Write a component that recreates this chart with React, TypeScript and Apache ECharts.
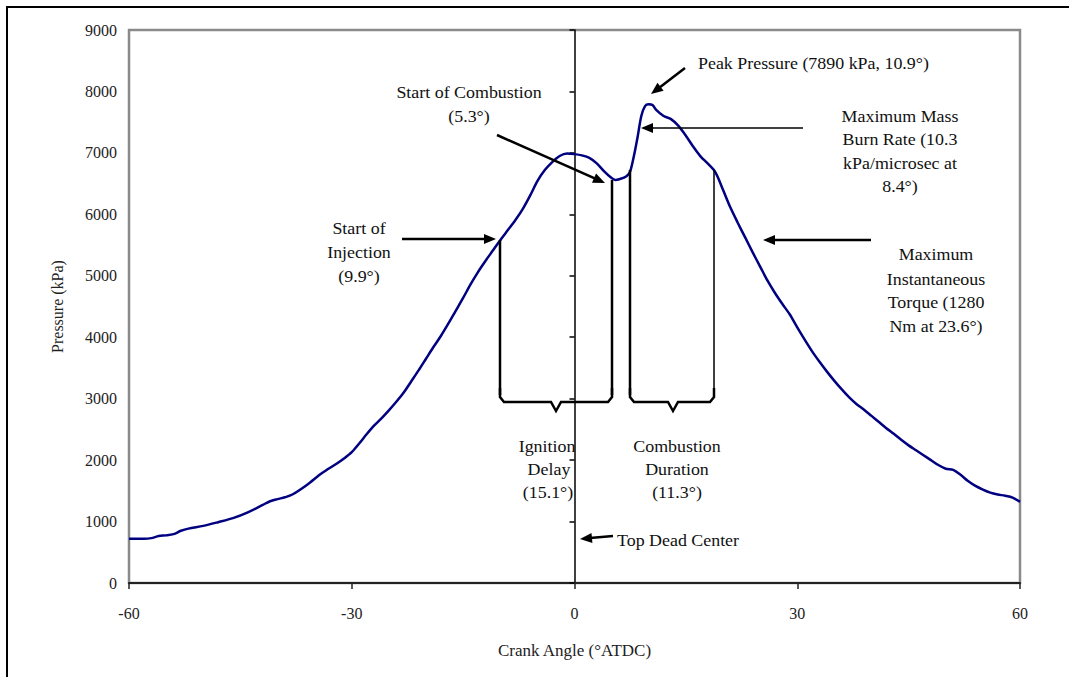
import React, { useEffect, useRef } from 'react';
import * as echarts from 'echarts';

const crankAngle = [
  -60, -58, -57, -56, -55, -54, -53, -52, -50, -48, -46, -44, -42, -41, -40, -39, -38, -36, -34, -32,
  -31, -30, -29, -28, -27, -26, -25, -24, -23, -22, -21, -20, -19, -18, -17, -16, -15, -14, -13, -12,
  -11, -10, -9, -8, -7, -6, -5, -4, -3, -2, -1, 0, 1, 2, 3, 4, 5, 5.5, 6, 7,
  7.5, 8, 8.5, 9, 9.5, 10, 10.5, 11, 12, 13, 14, 15, 16, 17, 18, 19, 20, 21, 22, 23,
  24, 25, 26, 27, 28, 29, 30, 31, 32, 33, 34, 35, 36, 37, 38, 39, 40, 41, 42, 43,
  44, 45, 46, 47, 48, 49, 50, 51, 52, 53, 54, 55, 56, 57, 58, 59, 60,
];
const pressure = [
  720, 720, 730, 765, 775, 795, 850, 885, 930, 990, 1055, 1150, 1270, 1330, 1365, 1395, 1440, 1600, 1790, 1945,
  2030, 2130, 2270, 2420, 2560, 2680, 2810, 2950, 3100, 3280, 3460, 3650, 3840, 4020, 4220, 4430, 4640, 4860, 5060, 5240,
  5410, 5580, 5740, 5900, 6080, 6300, 6540, 6720, 6850, 6950, 6990, 6980, 6960, 6920, 6830, 6700, 6590, 6560, 6570, 6620,
  6700, 6950, 7260, 7600, 7760, 7790, 7780, 7700, 7600, 7550, 7440, 7280, 7100, 6940, 6820, 6680, 6400, 6110, 5860, 5620,
  5380, 5150, 4920, 4720, 4540, 4370, 4160, 3960, 3770, 3600, 3440, 3290, 3150, 3020, 2910, 2820, 2720, 2620, 2520, 2430,
  2330, 2240, 2160, 2080, 2000, 1920, 1860, 1840, 1760, 1660, 1580, 1520, 1470, 1440, 1420, 1390, 1320,
];

const xAxisTitle = 'Crank Angle (°ATDC)';
const yAxisTitle = 'Pressure (kPa)';

const FONT = '"Liberation Serif", "Times New Roman", serif';

const GRID_LEFT = 129;
const GRID_WIDTH = 891;
const X_MIN = -60;
const X_MAX = 60;
const TDC_X = GRID_LEFT + ((0 - X_MIN) / (X_MAX - X_MIN)) * GRID_WIDTH;

function arrow(x1: number, y1: number, x2: number, y2: number, w = 2.5, head = 12, hw = 5) {
  const dx = x2 - x1;
  const dy = y2 - y1;
  const L = Math.hypot(dx, dy);
  const ux = dx / L;
  const uy = dy / L;
  const bx = x2 - ux * head;
  const by = y2 - uy * head;
  const px = -uy;
  const py = ux;
  return [
    { type: 'line', z: 100, shape: { x1, y1, x2: bx + ux * 2, y2: by + uy * 2 }, style: { stroke: '#000', lineWidth: w } },
    {
      type: 'polygon',
      z: 100,
      shape: { points: [[x2, y2], [bx + px * hw, by + py * hw], [bx - px * hw, by - py * hw]] },
      style: { fill: '#000' },
    },
  ];
}

function txt(text: string, x: number, y: number, align = 'center') {
  return {
    type: 'text',
    z: 100,
    x,
    y,
    scaleX: 1.12,
    style: { text, fontFamily: FONT, fontSize: 16, fill: '#111', textAlign: align, textVerticalAlign: 'middle' },
  };
}

function vline(x: number, y1: number, y2: number, w = 2.5) {
  return { type: 'line', z: 100, shape: { x1: x, y1, x2: x, y2 }, style: { stroke: '#000', lineWidth: w } };
}

function brace(xl: number, xr: number, xm: number, y: number) {
  return {
    type: 'polyline',
    z: 100,
    shape: {
      points: [
        [xl, y - 14], [xl, y - 5], [xl + 4, y], [xm - 5, y], [xm, y + 9], [xm + 5, y], [xr - 4, y], [xr, y - 5], [xr, y - 14],
      ],
    },
    style: { stroke: '#000', lineWidth: 2.5, fill: 'none' },
  };
}

export default function App() {
  const ref = useRef<HTMLDivElement>(null);
  useEffect(() => {
    if (!ref.current) return;
    const chart = echarts.init(ref.current, undefined, { renderer: 'svg' });
    const data = crankAngle.map((a, i) => [a, pressure[i]]);
    const graphic: any[] = [
      { type: 'rect', z: 100, shape: { x: 7, y: 7, width: 1200, height: 800 }, style: { fill: 'none', stroke: '#000', lineWidth: 2 } },
      // Start of injection
      txt('Start of', 359, 229), txt('Injection', 359, 253), txt('(9.9°)', 359, 277),
      ...arrow(402, 239, 496, 239),
      vline(500, 240, 395),
      // Start of combustion
      txt('Start of Combustion', 469, 93), txt('(5.3°)', 469, 117),
      ...arrow(497, 135, 605, 183),
      vline(612, 180, 395),
      vline(630, 170, 395),
      vline(714, 170, 395, 1.5),
      brace(500, 612, 556, 402),
      brace(630, 714, 673, 402),
      txt('Ignition', 547, 447), txt('Delay', 549, 470), txt('(15.1°)', 548, 493),
      txt('Combustion', 677, 447), txt('Duration', 677, 470), txt('(11.3°)', 677, 493),
      // Peak
      txt('Peak Pressure (7890 kPa, 10.9°)', 698, 64, 'left'),
      ...arrow(685, 68, 651, 94),
      // Max mass burn
      txt('Maximum Mass', 900, 117), txt('Burn Rate (10.3', 900, 140), txt('kPa/microsec at', 900, 164), txt('8.4°)', 900, 187),
      ...arrow(803, 128, 641, 128, 1.3, 12, 5),
      // Torque
      txt('Maximum', 936, 255), txt('Instantaneous', 936, 280), txt('Torque (1280', 936, 303), txt('Nm at 23.6°)', 936, 327),
      ...arrow(871, 240, 763, 240),
      // TDC
      ...arrow(613, 536, 580, 539),
      txt('Top Dead Center', 617, 541, 'left'),
    ];
    chart.setOption({
      animation: false,
      backgroundColor: '#fff',
      grid: [
        { left: GRID_LEFT, width: GRID_WIDTH, top: 30, bottom: 94, show: true, borderColor: '#8a8a8a', borderWidth: 2.5 },
        { left: TDC_X, width: 1, top: 30, bottom: 94, show: false },
      ],
      xAxis: [
        {
          type: 'value',
          gridIndex: 0,
          min: X_MIN,
          max: X_MAX,
          interval: 30,
          name: xAxisTitle,
          nameLocation: 'middle',
          nameGap: 59,
          nameTextStyle: { fontFamily: FONT, fontSize: 17, color: '#222' },
          axisLine: { show: true, lineStyle: { color: '#222', width: 2 } },
          axisTick: { show: true, length: 6, lineStyle: { color: '#222', width: 1.5 } },
          axisLabel: { fontFamily: FONT, fontSize: 16, color: '#222', margin: 22 },
          splitLine: { show: false },
        },
        {
          type: 'value',
          gridIndex: 1,
          min: 0,
          max: 1,
          show: false,
        },
      ],
      yAxis: [
        {
          type: 'value',
          gridIndex: 0,
          min: 0,
          max: 9000,
          interval: 1000,
          name: yAxisTitle,
          nameLocation: 'middle',
          nameGap: 64,
          nameRotate: 90,
          nameTextStyle: { fontFamily: FONT, fontSize: 16, color: '#222' },
          axisLine: { show: false },
          axisTick: { show: false },
          axisLabel: { fontFamily: FONT, fontSize: 16, color: '#222', margin: 12, formatter: (v: number) => String(v) },
          splitLine: { show: false },
        },
        {
          type: 'value',
          gridIndex: 1,
          min: 0,
          max: 9000,
          interval: 1000,
          position: 'left',
          axisLine: { show: true, lineStyle: { color: '#000', width: 1.5 } },
          axisTick: { show: true, length: 5, lineStyle: { color: '#000', width: 1.5 } },
          axisLabel: { show: false },
          splitLine: { show: false },
        },
      ],
      series: [
        {
          type: 'line',
          xAxisIndex: 0,
          yAxisIndex: 0,
          data,
          showSymbol: false,
          smooth: 0.3,
          lineStyle: { color: '#000080', width: 2.5 },
          z: 50,
        },
      ],
      graphic,
    });
    return () => chart.dispose();
  }, []);
  return <div ref={ref} style={{ position: 'absolute', left: 0, top: 0, width: 1069, height: 677 }} />;
}
